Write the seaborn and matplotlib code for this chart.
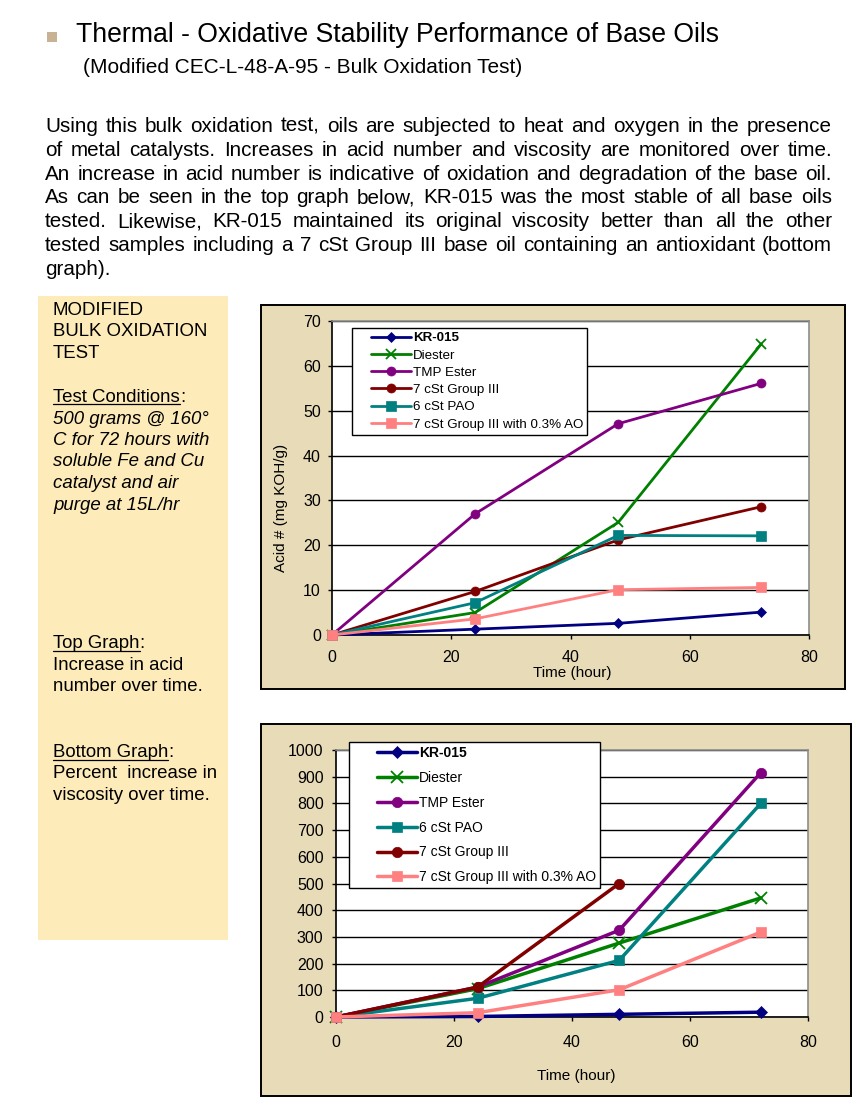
import matplotlib
matplotlib.use("Agg")
import matplotlib.pyplot as plt
from matplotlib.patches import Rectangle
from matplotlib.lines import Line2D
from matplotlib.legend_handler import HandlerLine2D
import seaborn as sns

W, H = 860, 1110

hours = [0, 24, 48, 72]

# top graph - acid number (mg KOH/g)
acid_names = ["KR-015", "Diester", "TMP Ester", "7 cSt Group III", "6 cSt PAO",
              "7 cSt Group III with 0.3% AO"]
acid_kr015 = [0, 1.3, 2.6, 5.1]
acid_diester = [0, 5.0, 25.1, 64.9]
acid_tmp = [0, 27.0, 47.1, 56.1]
acid_g3 = [0, 9.7, 21.2, 28.6]
acid_pao = [0, 7.2, 22.2, 22.1]
acid_g3_ao = [0, 3.6, 10.1, 10.6]

# bottom graph - percent increase in viscosity
visc_names = ["KR-015", "Diester", "TMP Ester", "6 cSt PAO", "7 cSt Group III",
              "7 cSt Group III with 0.3% AO"]
visc_kr015 = [0, 2, 10, 18]
visc_diester = [0, 106, 277, 446]
visc_tmp = [0, 112, 325, 915]
visc_pao = [0, 70, 212, 800]
visc_g3 = [0, 112, 500]          # no 72 h reading
visc_g3_ao = [0, 16, 102, 318]

colors = {"KR-015": "#000080", "Diester": "#008000", "TMP Ester": "#800080",
          "7 cSt Group III": "#800000", "6 cSt PAO": "#008080",
          "7 cSt Group III with 0.3% AO": "#FF8080"}
markers = {"KR-015": "D", "Diester": "x", "TMP Ester": "o", "7 cSt Group III": "o",
           "6 cSt PAO": "s", "7 cSt Group III with 0.3% AO": "s"}

title = "Thermal - Oxidative Stability Performance of Base Oils"
subtitle = "(Modified CEC-L-48-A-95 - Bulk Oxidation Test)"
body_lines = [
    "Using this bulk oxidation test, oils are subjected to heat and oxygen in the presence",
    "of metal catalysts.  Increases in acid number and viscosity are monitored over time.",
    "An increase in acid number is indicative of oxidation and degradation of the base oil.",
    "As can be seen in the top graph below, KR-015 was the most stable of all base oils",
    "tested.  Likewise, KR-015 maintained its original viscosity better than all the other",
    "tested samples including a 7 cSt Group III base oil containing an antioxidant (bottom",
    "graph).",
]

PARCH = "#E8DBB8"
SIDE = "#FDEBB9"

sns.set_theme(style="ticks")
plt.rcParams["font.family"] = ["Liberation Sans", "DejaVu Sans"]
plt.rcParams.update({"text.color": "black", "axes.labelcolor": "black",
                     "xtick.color": "black", "ytick.color": "black"})

fig = plt.figure(figsize=(W / 100, H / 100), dpi=100)
fig.patch.set_facecolor("white")
rend = fig.canvas.get_renderer()


def fx(x):
    return x / W


def fy(y):
    return 1 - y / H


def put(x, y, s, **kw):
    kw.setdefault("va", "baseline")
    return fig.text(fx(x), fy(y), s, **kw)


def width_of(s, **kw):
    t = fig.text(0, 0, s, **kw)
    w = t.get_window_extent(renderer=rend).width
    t.remove()
    return w


def underline(t, y):
    bb = t.get_window_extent(renderer=rend)
    fig.add_artist(Line2D([bb.x0 / W, bb.x1 / W], [fy(y), fy(y)], transform=fig.transFigure,
                          color="black", lw=0.9))


# ---- header ----
fig.add_artist(Rectangle((fx(47), fy(42)), 10 / W, 10 / H, transform=fig.transFigure,
                         facecolor="#C8B293", edgecolor="none"))
put(76, 42, title, fontsize=19.2)
put(83, 73, subtitle, fontsize=15)

# justified paragraph, font sized so the widest line nearly fills the column
x_left, x_right = 45, 832
natural = max(width_of(l, fontsize=14) for l in body_lines[:-1])
fs_body = 14 * (x_right - x_left) / natural * 0.985
for i, line in enumerate(body_lines):
    yb = 132 + i * 23.8
    if i == len(body_lines) - 1:
        put(x_left, yb, line, fontsize=fs_body)
        continue
    words = line.split()
    ws = [width_of(w, fontsize=fs_body) for w in words]
    gap = (x_right - x_left - sum(ws)) / (len(words) - 1)
    x = x_left
    for w, wd in zip(words, ws):
        put(x, yb, w, fontsize=fs_body)
        x += wd + gap

# ---- left side box ----
fig.add_artist(Rectangle((fx(38), fy(940)), 190 / W, 644 / H, transform=fig.transFigure,
                         facecolor=SIDE, edgecolor="none", zorder=-1))
fs_side = 13.4
xs = 53
for s, yb in [("MODIFIED", 315), ("BULK OXIDATION", 336.5), ("TEST", 358)]:
    put(xs, yb, s, fontsize=fs_side)

for head, yb in [("Test Conditions", 402), ("Top Graph", 648), ("Bottom Graph", 757)]:
    t = put(xs, yb, head, fontsize=fs_side)
    underline(t, yb + 2.5)
    put(xs + width_of(head, fontsize=fs_side), yb, ":", fontsize=fs_side)

for s, yb in [("500 grams @ 160°", 423.5), ("C for 72 hours with", 445),
              ("soluble Fe and Cu", 466.5), ("catalyst and air", 488),
              ("purge at 15L/hr", 509.5)]:
    put(xs, yb, s, fontsize=fs_side, style="italic")

for s, yb in [("Increase in acid", 669.5), ("number over time.", 691),
              ("Percent  increase in", 778.5), ("viscosity over time.", 800)]:
    put(xs, yb, s, fontsize=fs_side)


# ---- charts ----
class LeadLine(HandlerLine2D):
    """legend line that starts a bit right of the frame, like Excel"""

    def __init__(self, lead, **kw):
        super().__init__(**kw)
        self.lead = lead

    def get_xdata(self, legend, xdescent, ydescent, width, height, fontsize):
        x0 = -xdescent + self.lead * width
        x1 = -xdescent + width
        return [x0, x1], [(x0 + x1) / 2]


def panel(x0, y0, x1, y1):
    fig.add_artist(Rectangle((fx(x0), fy(y1)), (x1 - x0) / W, (y1 - y0) / H,
                             transform=fig.transFigure, facecolor=PARCH,
                             edgecolor="black", lw=1.4, zorder=-1))


def chart(rect, names, series, ymax, ystep, lw, ms, xpad, ypad):
    x0, x1, ytop, ybot = rect
    ax = fig.add_axes([fx(x0), fy(ybot), (x1 - x0) / W, (ybot - ytop) / H])
    ax.set_facecolor("white")
    for i, (name, vals) in enumerate(zip(names, series)):
        m = markers[name]
        size = ms * (1.2 if m == "x" else 0.85 if m == "D" else 1.0)
        sns.lineplot(x=hours[:len(vals)], y=vals, ax=ax, color=colors[name], lw=lw,
                     marker=m, markersize=size, mec=colors[name], mfc=colors[name],
                     mew=1.3 if m == "x" else 0.5, label=name, clip_on=False, zorder=3 + i)
    ax.set_xlim(0, 80)
    ax.set_ylim(0, ymax)
    ax.set_xticks(range(0, 81, 20))
    ax.set_yticks(range(0, ymax + 1, ystep))
    ax.yaxis.grid(True, color="black", lw=1)
    ax.xaxis.grid(False)
    ax.set_axisbelow(True)
    for s in ["top", "right"]:
        ax.spines[s].set_visible(True)
        ax.spines[s].set_color("#8C8C8C")
        ax.spines[s].set_linewidth(1.2)
    for s in ["left", "bottom"]:
        ax.spines[s].set_color("black")
        ax.spines[s].set_linewidth(1.2)
    ax.tick_params(direction="out", length=3, width=1, color="black", labelsize=11.5,
                   bottom=True, left=True, top=False, right=False)
    ax.tick_params(axis="x", pad=xpad)
    ax.tick_params(axis="y", pad=ypad)
    return ax


def legend(ax, anchor, fs, lead, hl, spacing):
    handles, labels = ax.get_legend_handles_labels()
    leg = ax.legend(handles, labels, loc="upper left", bbox_to_anchor=anchor,
                    borderaxespad=0, fontsize=fs, frameon=True, fancybox=False,
                    framealpha=1, facecolor="white", edgecolor="black",
                    handlelength=hl, handletextpad=0.12, labelspacing=spacing,
                    borderpad=0.3, handler_map={Line2D: LeadLine(lead)})
    leg.get_frame().set_linewidth(1.0)
    leg.get_texts()[0].set_fontweight("bold")
    leg.set_zorder(20)
    return leg


# top graph: acid number
panel(261, 305, 845, 689)
ax1 = chart((332, 809, 321, 635), acid_names,
            [acid_kr015, acid_diester, acid_tmp, acid_g3, acid_pao, acid_g3_ao],
            70, 10, 2.0, 6.5, 8, 5)
ax1.set_xlabel("Time (hour)", fontsize=11)
ax1.xaxis.set_label_coords(0.503, -0.099)
ax1.set_ylabel("Acid # (mg KOH/g)", fontsize=11)
ax1.yaxis.set_label_coords(-0.092, 0.404)
legend(ax1, (0.042, 0.978), 9.6, 0.27, 4.15, 0.37)

# bottom graph: viscosity increase
panel(261, 724, 851, 1096)
ax2 = chart((336, 808, 750, 1017), visc_names,
            [visc_kr015, visc_diester, visc_tmp, visc_pao, visc_g3, visc_g3_ao],
            1000, 100, 2.5, 7.5, 10, 6)
ax2.set_xlabel("Time (hour)", fontsize=11)
ax2.xaxis.set_label_coords(0.51, -0.195)
ax2.set_ylabel("")
legend(ax2, (0.0275, 1.03), 10, 0.38, 4.6, 0.78)

fig.savefig("out.png", dpi=100)
